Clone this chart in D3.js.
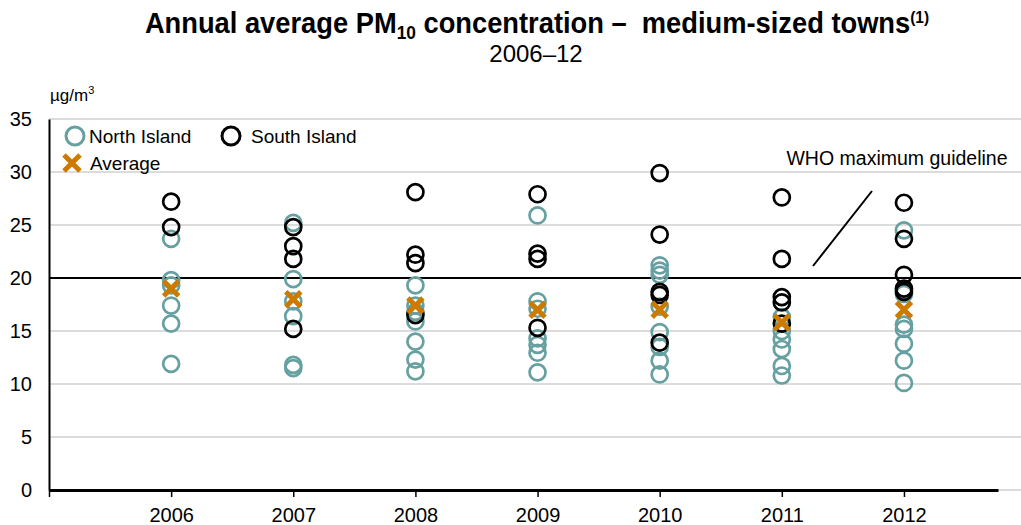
<!DOCTYPE html>
<html><head><meta charset="utf-8">
<script src="https://cdn.jsdelivr.net/npm/d3@7"></script>
<style>body{margin:0;background:#fff}svg{display:block;font-family:"Liberation Sans",Arial,sans-serif}</style>
</head><body><svg id="c" width="1021" height="525"></svg>
<script>
const years = [2006, 2007, 2008, 2009, 2010, 2011, 2012];
const northIsland = [
  [23.7, 19.8, 19.3, 17.4, 15.7, 11.9],
  [25.2, 19.9, 17.8, 16.4, 11.8, 11.5],
  [19.3, 17.4, 16.8, 15.9, 14.0, 12.3, 11.2],
  [25.9, 17.8, 17.1, 14.3, 13.7, 12.95, 11.1],
  [21.2, 20.7, 20.3, 17.3, 14.9, 13.5, 12.2, 10.9],
  [16.3, 15.0, 14.2, 13.3, 11.7, 10.8],
  [24.5, 18.9, 18.5, 15.6, 15.2, 13.8, 12.2, 10.1]
];
const southIsland = [
  [27.2, 24.8],
  [24.8, 23.0, 21.8, 15.2],
  [28.1, 22.2, 21.4, 16.5],
  [27.9, 22.3, 21.8, 15.3],
  [29.9, 24.1, 18.7, 18.4, 13.9],
  [27.6, 21.8, 18.2, 17.7, 15.7],
  [27.1, 23.7, 20.3, 19.0, 18.7]
];
const average = [19.0, 18.0, 17.4, 17.0, 17.0, 15.8, 17.0];
const yTicks = [0, 5, 10, 15, 20, 25, 30, 35];
const whoGuideline = 20;

const teal = "#66a0a0", orange = "#cc7a00";
const svg = d3.select("#c");
const x = d3.scaleLinear().domain([2005, 2012.77]).range([49, 998]);
const y = d3.scaleLinear().domain([0, 35]).range([490, 119]);

// title
const t = svg.append("text").attr("transform", "translate(537,33) scale(0.91,1)").attr("text-anchor", "middle")
  .style("white-space", "pre")
  .attr("font-size", 30).attr("font-weight", "bold").attr("fill", "#000");
t.append("tspan").text("Annual average PM");
t.append("tspan").attr("font-size", 19).attr("dy", 6).text("10");
t.append("tspan").attr("dy", -6).text(" concentration \u2013  medium-sized towns");
t.append("tspan").attr("font-size", 17).attr("dy", -10).text("(1)");
svg.append("text").attr("x", 536).attr("y", 62).attr("text-anchor", "middle")
  .attr("font-size", 24).text("2006\u201312");

// units
const u = svg.append("text").attr("x", 50).attr("y", 101).attr("font-size", 17);
u.append("tspan").text("\u00b5g/m");
u.append("tspan").attr("font-size", 11).attr("dy", -7).text("3");

// gridlines
svg.append("g").selectAll("line").data(yTicks.filter(d => d > 0)).join("line")
  .attr("x1", 49).attr("x2", 1021).attr("y1", d => y(d)).attr("y2", d => y(d))
  .attr("stroke", "#d0d0d0").attr("stroke-width", 1.5);
svg.append("line").attr("x1", 998).attr("x2", 1021).attr("y1", y(0)).attr("y2", y(0))
  .attr("stroke", "#d0d0d0").attr("stroke-width", 1.5);

// y axis
const ya = svg.append("g").attr("transform", "translate(49,0)")
  .call(d3.axisLeft(y).tickValues(yTicks).tickSize(0).tickPadding(17));
ya.select(".domain").attr("stroke", "#000").attr("stroke-width", 2);
ya.selectAll("text").attr("font-size", 20).attr("font-family", "Liberation Sans, Arial, sans-serif").attr("fill", "#000");

// x axis
const xa = svg.append("g").attr("transform", "translate(0,490)")
  .call(d3.axisBottom(x).tickValues([2005].concat(years)).tickFormat(d => d === 2005 ? "" : d)
    .tickSizeInner(7).tickSizeOuter(0).tickPadding(14));
xa.select(".domain").attr("stroke", "#000").attr("stroke-width", 3);
xa.selectAll(".tick line").attr("stroke", "#000").attr("stroke-width", 1.5);
xa.selectAll("text").attr("font-size", 20).attr("dy", null).attr("y", 32)
  .attr("font-family", "Liberation Sans, Arial, sans-serif").attr("fill", "#000");

// WHO guideline
svg.append("line").attr("x1", 49).attr("x2", 1021).attr("y1", y(whoGuideline)).attr("y2", y(whoGuideline))
  .attr("stroke", "#000").attr("stroke-width", 2);
svg.append("text").attr("x", 897).attr("y", 165).attr("text-anchor", "middle").attr("font-size", 19.5)
  .text("WHO maximum guideline");
svg.append("line").attr("x1", 813).attr("y1", 266).attr("x2", 872).attr("y2", 191)
  .attr("stroke", "#000").attr("stroke-width", 2);

// points
const flat = (arr) => arr.flatMap((vals, i) => vals.map(v => ({year: years[i], v})));
svg.append("g").selectAll("circle").data(flat(northIsland)).join("circle")
  .attr("cx", d => x(d.year)).attr("cy", d => y(d.v)).attr("r", 8)
  .attr("fill", "none").attr("stroke", teal).attr("stroke-width", 2.7);
svg.append("g").selectAll("circle").data(flat(southIsland)).join("circle")
  .attr("cx", d => x(d.year)).attr("cy", d => y(d.v)).attr("r", 8)
  .attr("fill", "none").attr("stroke", "#000").attr("stroke-width", 2.7);
const cross = (g, cx, cy, s) => {
  g.append("path").attr("d", `M${cx - s},${cy - s}L${cx + s},${cy + s}M${cx - s},${cy + s}L${cx + s},${cy - s}`)
    .attr("stroke", orange).attr("stroke-width", 5);
};
const ag = svg.append("g");
average.forEach((v, i) => cross(ag, x(years[i]), y(v), 7.5));

// legend
const lg = svg.append("g").attr("font-size", 19);
lg.append("circle").attr("cx", 75).attr("cy", 136).attr("r", 9).attr("fill", "none").attr("stroke", teal).attr("stroke-width", 3);
lg.append("text").attr("x", 89).attr("y", 143).text("North Island");
lg.append("circle").attr("cx", 231).attr("cy", 136).attr("r", 9).attr("fill", "none").attr("stroke", "#000").attr("stroke-width", 3);
lg.append("text").attr("x", 251).attr("y", 143).text("South Island");
cross(lg, 72, 163, 8);
lg.append("text").attr("x", 90).attr("y", 170).text("Average");
</script></body></html>
